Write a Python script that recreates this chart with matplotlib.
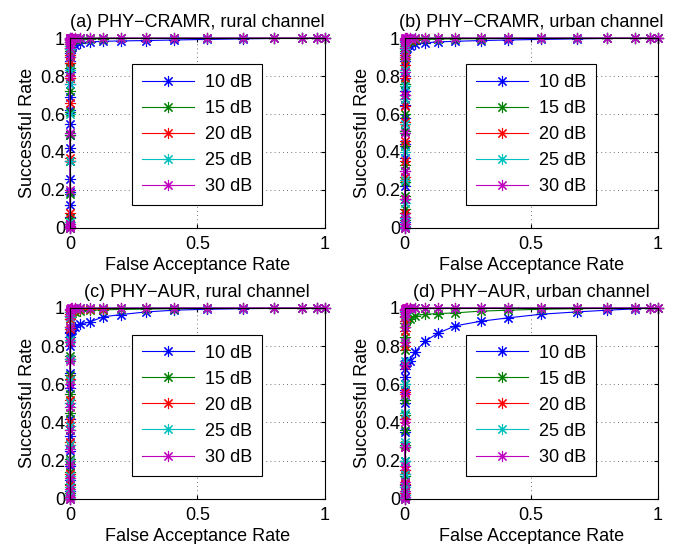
import matplotlib
matplotlib.use('Agg')
from matplotlib import pyplot as plt

plt.rcParams['font.family'] = ['Liberation Sans', 'DejaVu Sans']
plt.rcParams['font.size'] = 13

snr_labels = ['10 dB', '15 dB', '20 dB', '25 dB', '30 dB']
colors = ['#0000ff', '#008000', '#ff0000', '#00bfbf', '#bf00bf']

titles = ['(a) PHY\u2212CRAMR, rural channel', '(b) PHY\u2212CRAMR, urban channel',
          '(c) PHY\u2212AUR, rural channel', '(d) PHY\u2212AUR, urban channel']

# false acceptance rate at each threshold (shared by all curves)
far = [0, 0, 0, 0, 0, 0, 0, 0, 0, 0, 0, 0, 0, 0,
       0.002, 0.005, 0.01, 0.02, 0.04, 0.08, 0.13, 0.2, 0.3, 0.41,
       0.54, 0.68, 0.8, 0.91, 0.97, 1.0]

# successful rate, one list per SNR
sr_a = [
    [0, 0.06, 0.12, 0.19, 0.26, 0.35, 0.42, 0.49, 0.55, 0.62, 0.69, 0.76, 0.82, 0.88,
     0.92, 0.94, 0.955, 0.965, 0.975, 0.98, 0.983, 0.985, 0.987, 0.99, 0.993, 0.996, 0.998, 0.999, 1, 1],
    [0, 0.05, 0.18, 0.35, 0.49, 0.61, 0.72, 0.79, 0.84, 0.87, 0.9, 0.93, 0.95, 0.97,
     0.98, 0.985, 0.99, 0.993, 0.995, 0.996, 0.997, 0.998, 0.998, 0.999, 0.999, 1, 1, 1, 1, 1],
    [0, 0.02, 0.08, 0.37, 0.66, 0.79, 0.87, 0.91, 0.94, 0.96, 0.97, 0.98, 0.99, 0.995,
     0.996, 0.997, 0.998, 0.999, 0.999, 1, 1, 1, 1, 1, 1, 1, 1, 1, 1, 1],
    [0, 0.01, 0.03, 0.35, 0.6, 0.76, 0.83, 0.9, 0.94, 0.96, 0.98, 0.99, 0.995, 0.998,
     0.999, 0.999, 1, 1, 1, 1, 1, 1, 1, 1, 1, 1, 1, 1, 1, 1],
    [0, 0.005, 0.01, 0.02, 0.2, 0.5, 0.8, 0.9, 0.95, 0.97, 0.98, 0.99, 0.995, 0.999,
     1, 1, 1, 1, 1, 1, 1, 1, 1, 1, 1, 1, 1, 1, 1, 1],
]
sr_b = [
    [0, 0.03, 0.08, 0.15, 0.22, 0.3, 0.37, 0.44, 0.51, 0.58, 0.65, 0.72, 0.8, 0.88,
     0.92, 0.94, 0.95, 0.96, 0.97, 0.975, 0.98, 0.983, 0.987, 0.99, 0.993, 0.996, 0.998, 0.999, 1, 1],
    [0, 0.04, 0.1, 0.17, 0.24, 0.33, 0.43, 0.51, 0.6, 0.68, 0.76, 0.83, 0.89, 0.93,
     0.96, 0.97, 0.98, 0.985, 0.99, 0.993, 0.995, 0.996, 0.997, 0.998, 0.999, 1, 1, 1, 1, 1],
    [0, 0.02, 0.08, 0.15, 0.27, 0.35, 0.46, 0.56, 0.64, 0.7, 0.79, 0.86, 0.91, 0.95,
     0.97, 0.98, 0.99, 0.995, 0.997, 0.998, 0.999, 1, 1, 1, 1, 1, 1, 1, 1, 1],
    [0, 0.01, 0.05, 0.13, 0.25, 0.4, 0.55, 0.68, 0.75, 0.83, 0.9, 0.94, 0.97, 0.985,
     0.99, 0.995, 0.997, 0.999, 1, 1, 1, 1, 1, 1, 1, 1, 1, 1, 1, 1],
    [0, 0.005, 0.02, 0.06, 0.15, 0.3, 0.5, 0.7, 0.82, 0.9, 0.95, 0.98, 0.99, 0.995,
     0.998, 0.999, 1, 1, 1, 1, 1, 1, 1, 1, 1, 1, 1, 1, 1, 1],
]
sr_c = [
    [0, 0.04, 0.1, 0.17, 0.25, 0.33, 0.42, 0.5, 0.58, 0.66, 0.73, 0.8, 0.85, 0.87,
     0.875, 0.88, 0.885, 0.9, 0.915, 0.927, 0.953, 0.965, 0.979, 0.988, 0.993, 0.996, 0.998, 0.999, 1, 1],
    [0, 0.03, 0.08, 0.14, 0.21, 0.28, 0.36, 0.45, 0.55, 0.65, 0.75, 0.83, 0.9, 0.94,
     0.96, 0.97, 0.975, 0.98, 0.985, 0.988, 0.99, 0.992, 0.994, 0.996, 0.997, 0.998, 0.999, 1, 1, 1],
    [0, 0.02, 0.07, 0.13, 0.2, 0.3, 0.4, 0.52, 0.63, 0.73, 0.82, 0.89, 0.94, 0.97,
     0.98, 0.985, 0.99, 0.992, 0.994, 0.995, 0.996, 0.997, 0.998, 0.999, 1, 1, 1, 1, 1, 1],
    [0, 0.02, 0.06, 0.12, 0.2, 0.28, 0.38, 0.5, 0.62, 0.73, 0.83, 0.9, 0.95, 0.98,
     0.99, 0.993, 0.995, 0.997, 0.998, 0.999, 1, 1, 1, 1, 1, 1, 1, 1, 1, 1],
    [0, 0.01, 0.05, 0.11, 0.18, 0.26, 0.36, 0.48, 0.6, 0.72, 0.82, 0.9, 0.96, 0.99,
     0.995, 0.997, 0.999, 1, 1, 1, 1, 1, 1, 1, 1, 1, 1, 1, 1, 1],
]
sr_d = [
    [0, 0.01, 0.03, 0.07, 0.13, 0.2, 0.27, 0.35, 0.42, 0.5, 0.57, 0.64, 0.68, 0.7,
     0.705, 0.71, 0.715, 0.72, 0.77, 0.825, 0.867, 0.906, 0.93, 0.948, 0.967, 0.979, 0.988, 0.995, 0.999, 1],
    [0, 0.02, 0.06, 0.12, 0.2, 0.28, 0.36, 0.44, 0.52, 0.6, 0.7, 0.78, 0.85, 0.9,
     0.92, 0.93, 0.94, 0.944, 0.96, 0.967, 0.97, 0.974, 0.983, 0.988, 0.993, 0.996, 0.998, 0.999, 1, 1],
    [0, 0.03, 0.08, 0.15, 0.27, 0.42, 0.56, 0.7, 0.8, 0.88, 0.93, 0.96, 0.98, 0.99,
     0.993, 0.995, 0.997, 0.998, 0.999, 1, 1, 1, 1, 1, 1, 1, 1, 1, 1, 1],
    [0, 0.02, 0.06, 0.13, 0.2, 0.3, 0.45, 0.6, 0.72, 0.82, 0.9, 0.95, 0.97, 0.985,
     0.99, 0.993, 0.995, 0.997, 0.998, 0.999, 1, 1, 1, 1, 1, 1, 1, 1, 1, 1],
    [0, 0.01, 0.04, 0.09, 0.17, 0.27, 0.4, 0.55, 0.7, 0.82, 0.9, 0.95, 0.98, 0.99,
     0.995, 0.997, 0.998, 0.999, 1, 1, 1, 1, 1, 1, 1, 1, 1, 1, 1, 1],
]
all_sr = [sr_a, sr_b, sr_c, sr_d]

# axes boxes in figure fraction (MATLAB-like layout)
boxes = [
    [0.103, 0.581, 0.376, 0.349],
    [0.597, 0.581, 0.373, 0.349],
    [0.103, 0.083, 0.376, 0.351],
    [0.597, 0.083, 0.373, 0.351],
]

fig = plt.figure(figsize=(6.78, 5.44), dpi=100)

for i in range(4):
    ax = fig.add_axes(boxes[i])
    for k in range(5):
        ax.plot(far, all_sr[i][k], color=colors[k], lw=0.8,
                marker=(8, 2, 0), markersize=8, markeredgewidth=0.8,
                label=snr_labels[k], clip_on=False)
    ax.set_xlim(0, 1)
    ax.set_ylim(0, 1)
    ax.set_xticks([0, 0.5, 1])
    ax.set_xticklabels(['0', '0.5', '1'])
    ax.set_yticks([0, 0.2, 0.4, 0.6, 0.8, 1])
    ax.set_yticklabels(['0', '0.2', '0.4', '0.6', '0.8', '1'])
    ax.tick_params(axis='x', pad=6)
    ax.tick_params(direction='in', top=True, right=True, length=3, labelsize=13)
    ax.grid(True, linestyle=(0, (1, 4)), color='#444444', lw=0.6)
    ax.set_title(titles[i], fontsize=13, pad=8)
    ax.set_xlabel('False Acceptance Rate', fontsize=13, labelpad=3)
    ax.set_ylabel('Successful Rate', fontsize=13, labelpad=3)
    for s in ax.spines.values():
        s.set_linewidth(0.8)
    leg = ax.legend(loc='center', bbox_to_anchor=(0.5, 0.49), fancybox=False,
                    edgecolor='black', framealpha=1, handlelength=2.9,
                    labelspacing=0.5, borderpad=0.55, handletextpad=0.6,
                    fontsize=13)
    leg.get_frame().set_linewidth(0.8)

fig.savefig('out.png', dpi=100)
